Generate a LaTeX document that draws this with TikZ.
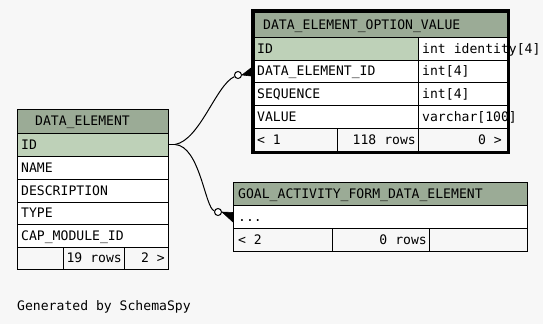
\documentclass[tikz,border=0pt]{standalone}
\usepackage{fontspec}
\newfontfamily\tabfont{DejaVu Sans Mono}
\definecolor{pagebg}{HTML}{F7F7F7}
\definecolor{headbg}{HTML}{9BAB96}
\definecolor{keybg}{HTML}{BED1B8}
\definecolor{bodybg}{HTML}{FFFFFF}
\definecolor{footbg}{HTML}{F7F7F7}

\tikzset{
  cell/.style={draw=black, line width=1pt, rectangle, inner sep=0pt, outer sep=0pt, anchor=north west},
  txt/.style={inner sep=0pt, font=\tabfont\fontsize{13.1pt}{15pt}\selectfont, text=black},
  lt/.style={txt, anchor=base west, yshift=-4.75pt},
  rt/.style={txt, anchor=base east, yshift=-4.75pt},
  link/.style={draw=black, line width=1pt},
  optring/.style={circle, draw=black, line width=1pt, fill=white, minimum size=7pt, inner sep=0pt},
  crow/.style={fill=black, draw=black, line width=0.6pt, line join=round},
  frame/.style={draw=black, line width=3pt, rectangle, inner sep=0pt, outer sep=0pt, anchor=north west},
}

% table cell: name, x1, y1, x2, y2, fill colour
\newcommand\tcell[6]{\node[cell, fill=#6, minimum width={(#4-#2)*1pt}, minimum height={(#5-#3)*1pt}] (#1) at (#2,#3) {};}

\begin{document}
\begin{tikzpicture}[x=1pt, y=-1pt]
\fill[pagebg] (0,0) rectangle (543,324);
\useasboundingbox (0,0) rectangle (543,324);

% ---- DATA_ELEMENT_OPTION_VALUE ----
\tcell{dovHead}{254}{12}{507}{37}{headbg}
\tcell{dovID}{254}{37}{418}{60}{keybg}
\tcell{dovIDty}{418}{37}{507}{60}{bodybg}
\tcell{dovDE}{254}{60}{418}{82}{bodybg}
\tcell{dovDEty}{418}{60}{507}{82}{bodybg}
\tcell{dovSeq}{254}{82}{418}{105}{bodybg}
\tcell{dovSeqty}{418}{82}{507}{105}{bodybg}
\tcell{dovVal}{254}{105}{418}{128}{bodybg}
\tcell{dovValty}{418}{105}{507}{128}{bodybg}
\tcell{dovF1}{254}{128}{337}{151}{footbg}
\tcell{dovF2}{337}{128}{418}{151}{footbg}
\tcell{dovF3}{418}{128}{507}{151}{footbg}
\node[frame, minimum width=256pt, minimum height=142pt] (dovFrame) at (252.5,10.5) {};

% ---- DATA_ELEMENT ----
\tcell{deHead}{17}{109}{168}{133}{headbg}
\tcell{deID}{17}{133}{168}{156}{keybg}
\tcell{deName}{17}{156}{168}{179}{bodybg}
\tcell{deDesc}{17}{179}{168}{202}{bodybg}
\tcell{deType}{17}{202}{168}{224}{bodybg}
\tcell{deCap}{17}{224}{168}{247}{bodybg}
\tcell{deF1}{17}{247}{63}{269}{footbg}
\tcell{deF2}{63}{247}{124}{269}{footbg}
\tcell{deF3}{124}{247}{168}{269}{footbg}

% ---- GOAL_ACTIVITY_FORM_DATA_ELEMENT ----
\tcell{gHead}{233}{182}{527}{205}{headbg}
\tcell{gRow}{233}{205}{527}{228}{bodybg}
\tcell{gF1}{233}{228}{332}{251}{footbg}
\tcell{gF2}{332}{228}{429}{251}{footbg}
\tcell{gF3}{429}{228}{527}{251}{footbg}

% ---- relationships ----
\coordinate (split) at (175,144.5);
\node[optring] (o1) at (238,75) {};
\node[optring] (o2) at (218,212) {};
\draw[link] (deID.east) -- (split);
\draw[link] (split) .. controls (200,140) and (216,85) .. (o1);
\draw[link] (split) .. controls (200,146) and (205,208) .. (o2);
\filldraw[crow] (o1.east) -- ([shift={(-3pt,3pt)}]dovDE.west) -- ([shift={(-3pt,-5pt)}]dovDE.west) -- cycle;
\filldraw[crow] (o2.east) -- ([yshift=4pt]gRow.west) -- ([yshift=-5.5pt]gRow.west) -- cycle;

% ---- texts ----
\node[lt, xshift=9pt] (dovHeadT) at (dovHead.west) {DATA\_ELEMENT\_OPTION\_VALUE};
\node[lt, xshift=3pt] (dovIDT) at (dovID.west) {ID};
\node[lt, xshift=4pt] (dovIDtyT) at (dovIDty.west) {int identity[4]};
\node[lt, xshift=3pt] (dovDET) at (dovDE.west) {DATA\_ELEMENT\_ID};
\node[lt, xshift=4pt] (dovDEtyT) at (dovDEty.west) {int[4]};
\node[lt, xshift=3pt] (dovSeqT) at (dovSeq.west) {SEQUENCE};
\node[lt, xshift=4pt] (dovSeqtyT) at (dovSeqty.west) {int[4]};
\node[lt, xshift=3pt] (dovValT) at (dovVal.west) {VALUE};
\node[lt, xshift=4pt] (dovValtyT) at (dovValty.west) {varchar[100]};
\node[lt, xshift=3pt] (dovF1T) at (dovF1.west) {< 1};
\node[rt, xshift=-2pt] (dovF2T) at (dovF2.east) {118 rows};
\node[rt, xshift=-5pt] (dovF3T) at (dovF3.east) {0 >};

\node[lt, xshift=18pt] (deHeadT) at (deHead.west) {DATA\_ELEMENT};
\node[lt, xshift=4pt] (deIDT) at (deID.west) {ID};
\node[lt, xshift=4pt] (deNameT) at (deName.west) {NAME};
\node[lt, xshift=4pt] (deDescT) at (deDesc.west) {DESCRIPTION};
\node[lt, xshift=4pt] (deTypeT) at (deType.west) {TYPE};
\node[lt, xshift=4pt] (deCapT) at (deCap.west) {CAP\_MODULE\_ID};
\node[rt, xshift=-2pt] (deF2T) at (deF2.east) {19 rows};
\node[rt, xshift=-3pt] (deF3T) at (deF3.east) {2 >};

\node[lt, xshift=5pt] (gHeadT) at (gHead.west) {GOAL\_ACTIVITY\_FORM\_DATA\_ELEMENT};
\node[lt, xshift=5pt] (gRowT) at (gRow.west) {...};
\node[lt, xshift=5pt] (gF1T) at (gF1.west) {< 2};
\node[rt, xshift=-2pt] (gF2T) at (gF2.east) {0 rows};

\node[txt, anchor=base west] (credit) at (17,310) {Generated by SchemaSpy};
\end{tikzpicture}
\end{document}
